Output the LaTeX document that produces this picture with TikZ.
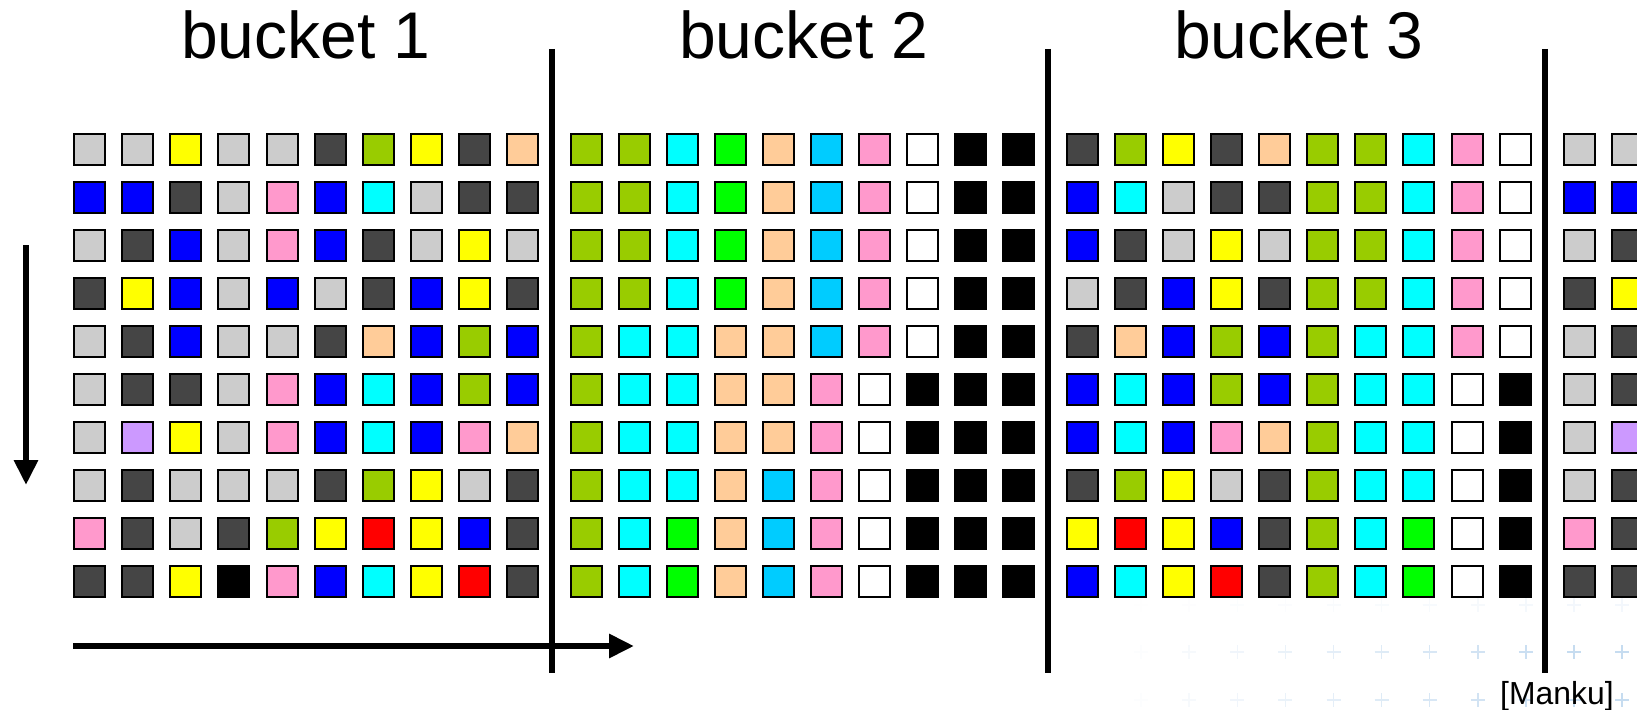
\documentclass[tikz,border=0pt]{standalone}
\usepackage{fontspec}
\setmainfont{Liberation Sans}
\usetikzlibrary{arrows.meta}
\definecolor{cG}{HTML}{CCCCCC}
\definecolor{cD}{HTML}{454545}
\definecolor{cY}{HTML}{FFFF00}
\definecolor{cO}{HTML}{99CC00}
\definecolor{cP}{HTML}{FFCC99}
\definecolor{cB}{HTML}{0000FF}
\definecolor{cK}{HTML}{FF99CC}
\definecolor{cC}{HTML}{00FFFF}
\definecolor{cL}{HTML}{00FF00}
\definecolor{cS}{HTML}{00CCFF}
\definecolor{cW}{HTML}{FFFFFF}
\definecolor{cX}{HTML}{000000}
\definecolor{cV}{HTML}{CC99FF}
\definecolor{cR}{HTML}{FF0000}
\definecolor{crosscol}{HTML}{5C9BD6}
\tikzset{
  sq/.style={draw=black, line width=2bp, minimum size=31bp, inner sep=0pt, outer sep=0pt},
  divider/.style={line width=6bp, black},
  flow/.style={line width=6bp, black, -{Triangle[length=25bp,width=23bp]}},
  title/.style={anchor=base, font=\fontsize{66.25}{70}\selectfont},
  crossmark/.style={crosscol, line width=1.5bp},
}
\newcommand\mybucket[2]{%
  \foreach \row [count=\r] in {#2} {
    \foreach \col [count=\c] in \row {
      \node[sq, fill=c\col] (s-#1-\r-\c) at ({89.8+48.05*(\c-1)+496.4*(#1-1)}, {149.2+48*(\r-1)}) {};
    }
  }%
}
\begin{document}
\begin{tikzpicture}[x=1bp, y=-1bp]
\clip (0,0) rectangle (1637,710);
\fill[white] (0,0) rectangle (1637,710);
% faint background crosses
\foreach \k in {0,...,11}{
  \foreach \y/\f in {605/0.2,652/1,700/1}{
    \pgfmathsetmacro\xx{1093+48.1*\k}
    \pgfmathsetmacro\op{\f*min(0.35,max(0,(\xx-1120)/1300))}
    \draw[crossmark, opacity=\op] (\xx-7,\y) -- (\xx+7,\y) (\xx,\y-7) -- (\xx,\y+7);
  }
}
% grid
\mybucket{1}{{G,G,Y,G,G,D,O,Y,D,P},{B,B,D,G,K,B,C,G,D,D},{G,D,B,G,K,B,D,G,Y,G},{D,Y,B,G,B,G,D,B,Y,D},{G,D,B,G,G,D,P,B,O,B},{G,D,D,G,K,B,C,B,O,B},{G,V,Y,G,K,B,C,B,K,P},{G,D,G,G,G,D,O,Y,G,D},{K,D,G,D,O,Y,R,Y,B,D},{D,D,Y,X,K,B,C,Y,R,D}}
\mybucket{2}{{O,O,C,L,P,S,K,W,X,X},{O,O,C,L,P,S,K,W,X,X},{O,O,C,L,P,S,K,W,X,X},{O,O,C,L,P,S,K,W,X,X},{O,C,C,P,P,S,K,W,X,X},{O,C,C,P,P,K,W,X,X,X},{O,C,C,P,P,K,W,X,X,X},{O,C,C,P,S,K,W,X,X,X},{O,C,L,P,S,K,W,X,X,X},{O,C,L,P,S,K,W,X,X,X}}
\mybucket{3}{{D,O,Y,D,P,O,O,C,K,W},{B,C,G,D,D,O,O,C,K,W},{B,D,G,Y,G,O,O,C,K,W},{G,D,B,Y,D,O,O,C,K,W},{D,P,B,O,B,O,C,C,K,W},{B,C,B,O,B,O,C,C,W,X},{B,C,B,K,P,O,C,C,W,X},{D,O,Y,G,D,O,C,C,W,X},{Y,R,Y,B,D,O,C,L,W,X},{B,C,Y,R,D,O,C,L,W,X}}
\mybucket{4}{{G,G},{B,B},{G,D},{D,Y},{G,D},{G,D},{G,V},{G,D},{K,D},{D,D}}
% titles
\node[title] (t1) at (306,59) {bucket 1};
\node[title] (t2) at (804,59) {bucket 2};
\node[title] (t3) at (1299,59) {bucket 3};
% dividers
\foreach \i/\x in {1/552,2/1048,3/1544.5}{
  \coordinate (dt\i) at (\x,49);
  \coordinate (db\i) at (\x,673);
  \draw[divider] (dt\i) -- (db\i);
}
% arrows
\coordinate (vs) at (26,245);
\coordinate (ve) at (26,485);
\draw[flow] (vs) -- (ve);
\coordinate (hs) at (73,646);
\coordinate (he) at (634,646);
\draw[flow] (hs) -- (he);
% citation
\node[anchor=base west, font=\fontsize{32}{34}\selectfont, inner sep=0pt] (cite) at (1500,704) {[Manku]};
\end{tikzpicture}
\end{document}
